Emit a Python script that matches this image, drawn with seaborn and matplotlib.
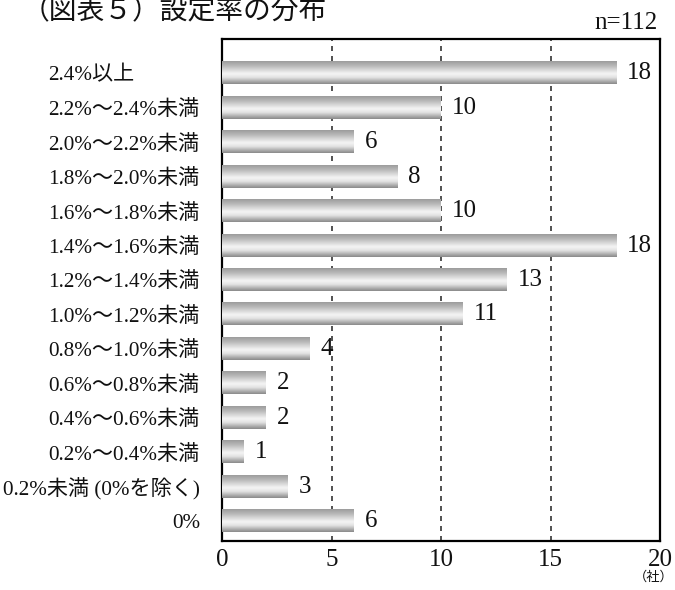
import numpy as np
import matplotlib
matplotlib.use("Agg")
import matplotlib.pyplot as plt
import matplotlib.transforms as mtransforms
from matplotlib.colors import LinearSegmentedColormap
import seaborn as sns
import pandas as pd

# Distribution of the rate setting (number of companies per band)
categories = [
    "2.4%以上",
    "2.2%～2.4%未満",
    "2.0%～2.2%未満",
    "1.8%～2.0%未満",
    "1.6%～1.8%未満",
    "1.4%～1.6%未満",
    "1.2%～1.4%未満",
    "1.0%～1.2%未満",
    "0.8%～1.0%未満",
    "0.6%～0.8%未満",
    "0.4%～0.6%未満",
    "0.2%～0.4%未満",
    "0.2%未満 (0%を除く)",
    "0%",
]
companies = [18, 10, 6, 8, 10, 18, 13, 11, 4, 2, 2, 1, 3, 6]
x_ticks = [0, 5, 10, 15, 20]
right_aligned = {"0.2%未満 (0%を除く)", "0%"}

title = "（図表５）設定率の分布"
sample_note = "n=112"
unit_note = "（社）"

sns.set_theme(style="white")
serif = ["Liberation Serif", "Noto Sans CJK JP"]
plt.rcParams["font.family"] = serif

W, H, DPI = 675, 590, 100
fig = plt.figure(figsize=(W / DPI, H / DPI), dpi=DPI)
fig.subplots_adjust(left=222 / W, right=660 / W, top=1 - 39 / H, bottom=1 - 541 / H)
ax = fig.add_subplot(111)

df = pd.DataFrame({"band": categories, "count": companies})
sns.barplot(data=df, y="band", x="count", orient="h", order=categories,
            width=0.64, facecolor="none", edgecolor="none", ax=ax, zorder=3)

# Cylinder-like grey shading across the height of every bar
shade = LinearSegmentedColormap.from_list(
    "barshade",
    [(0.0, "#9c9c9c"), (0.2, "#b8b8b8"), (0.55, "#f5f5f5"),
     (0.72, "#e2e2e2"), (0.9, "#a8a8a8"), (1.0, "#8a8a8a")])
grad = np.linspace(0, 1, 64).reshape(-1, 1)
for p in ax.patches:
    x0, y0 = p.get_x(), p.get_y()
    w, h = p.get_width(), p.get_height()
    if w <= 0:
        continue
    ax.imshow(grad, cmap=shade, aspect="auto", interpolation="bicubic",
              extent=(x0, x0 + w, y0 + h, y0), zorder=3)

ax.bar_label(ax.containers[0], labels=[str(v) for v in companies],
             padding=8, fontsize=18, color="#111111", family=serif)

ax.set_xlim(0, 20)
ax.set_ylim(13.58, -1.0)
ax.set_xticks(x_ticks)
ax.set_xticklabels([str(t) for t in x_ticks], fontsize=18, color="#111111")
ax.set_yticks(range(len(categories)))
ax.set_yticklabels(categories, fontsize=15.2, color="#111111")
ax.set_xlabel("")
ax.set_ylabel("")
ax.tick_params(axis="both", length=0)
ax.tick_params(axis="y", pad=15.8)
ax.tick_params(axis="x", pad=6)

# Most band labels start at a common left edge; the last two are right-aligned
shift = mtransforms.ScaledTranslation(-152 / DPI, 0, fig.dpi_scale_trans)
for lab in ax.get_yticklabels():
    if lab.get_text() not in right_aligned:
        lab.set_horizontalalignment("left")
        lab.set_transform(lab.get_transform() + shift)

for xv in x_ticks[1:-1]:
    ax.axvline(xv, color="#333333", linewidth=1.2, linestyle=(0, (3, 3)), zorder=1)

for s in ax.spines.values():
    s.set_visible(True)
    s.set_color("black")
    s.set_linewidth(1.6)

fig.text(22 / W, 1 - 19 / H, title, fontsize=20, family=["Noto Sans CJK JP"],
         ha="left", va="baseline", color="#111111")
fig.text(658 / W, 1 - 29 / H, sample_note, fontsize=18, ha="right",
         va="baseline", color="#111111")
fig.text(674 / W, 1 - 581 / H, unit_note, fontsize=9.5, ha="right",
         va="baseline", color="#111111", family=["Noto Sans CJK JP"])

fig.savefig("out.png", dpi=DPI)
